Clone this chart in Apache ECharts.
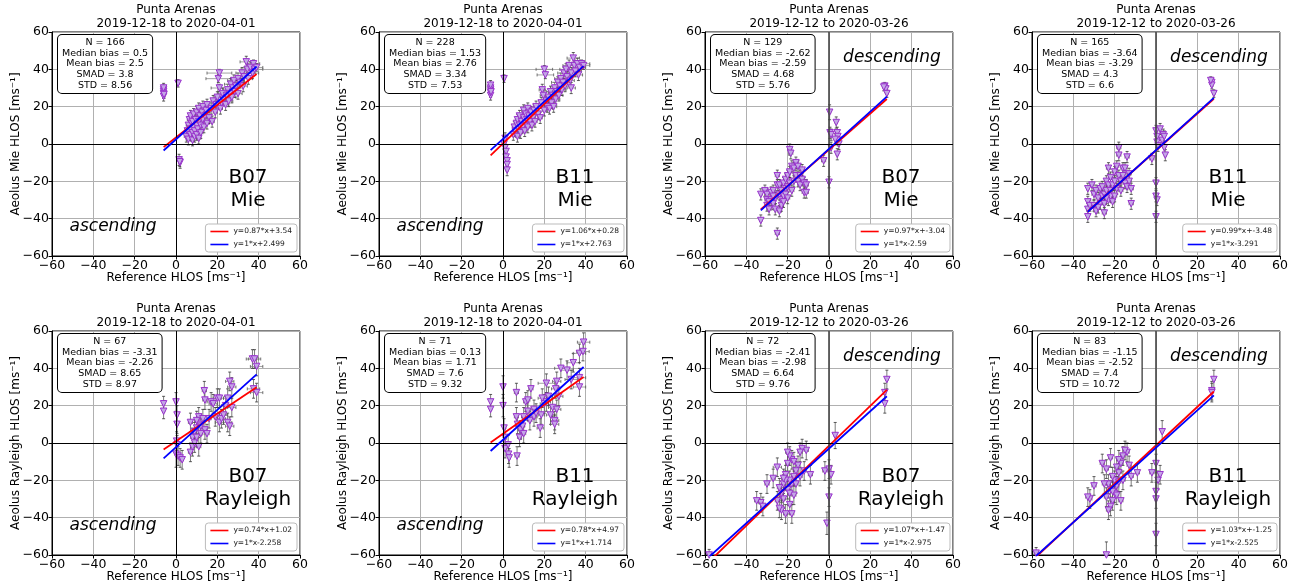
<!DOCTYPE html>
<html>
<head>
<meta charset="utf-8">
<script src="https://cdn.jsdelivr.net/npm/echarts@6/dist/echarts.min.js"></script>
<style>
  html, body { margin: 0; padding: 0; background: #fff; }
  #chart { width: 1298px; height: 586px; }
</style>
</head>
<body>
<div id="chart"></div>
<script>
// tick values shared by all panels
const ticks = [-60, -40, -20, 0, 20, 40, 60];

// points: [reference, aeolus, xerr, yerr]
const b07MieAsc = [[-6,25.5,0.5,2.5],[-6,27,0.5,2.5],[-6,28,0.5,2.5],[-6,29,0.5,2.5],[-6,30,0.5,2.5],[-5.8,26.5,0.5,2],
  [1,32.5,0.5,2],[1.5,-8.5,0.5,3],[2,-10,0.5,3],[1.8,-9.5,0.5,2.5],
  [5,4,1,3],[5.5,7,1,3],[6,2.5,1,3],[6,10,1,3],[6.5,13,1,3],[7,5,1,3],[7,8,1,3],[7,15,1,3],[7.5,11,1,3],[8,2,1,3],
  [8,6,1,3],[8,12,1,3],[8.5,9,1,3],[8.5,16,1,3],[9,4,1,3],[9,7,1,3],[9.5,13,1,3],[10,5,1,3],[10,10,1,3],[10,17,1,3],
  [10.5,8,1,3],[11,3,1,3],[11,12,1,3],[11,19,1,3],[11.5,15,1,3],[12,6,1,3],[12,10,1,3],[12.5,17,1,3],[13,13,1,3],[13,20,1,3],
  [13.5,9,1,3],[14,15,1,3],[14.5,18,1,3],[15,11,1,3],[15,21,1,3],[16,14,1,3],[17,19,1,3],[17.5,12,1,3],[18,23,1,3],[19,17,1,3],
  [19.5,21,1,3],[20,25,1.5,3],[20.5,35,6,2],[21,38,6,2],[21,30,4,2],[21.5,19,1,3],[22,22,1.5,3],[22.5,27,2,3],[23,24,1.5,3],[24,21,1.5,3],
  [24.5,26,2,3],[25,29,2,3],[25.5,23,2,3],[26,27,2,3],[26.5,32,3,3],[27,25,2,3],[27.5,30,2,3],[28,34,3,3],[28.5,28,2,3],[29,31,2,3],
  [30,35,3,3],[30,27,2,3],[31,33,2,3],[32,38,3,3],[32.5,31,2,3],[33,36,2,3],[34,44,3,3],[34.5,40,3,3],[35,35,2,3],[36,41,3,3],
  [37,38,3,3],[37.5,43,3,2],[38,40,4,2],[39,41,3,2]];
const b11MieAsc = [[-6,26,0.5,2.5],[-6,27.5,0.5,2.5],[-6,29,0.5,2.5],[-6,30,0.5,2.5],[-6,31.5,0.5,2.5],[-5.8,28,0.5,2],
  [0.5,35,0.5,2],[0.5,0,0.5,3],[1,-2,0.5,3],[1.5,-4,0.5,3],[1.5,-7,0.5,3],[2,-9,0.5,3],[2,-11,0.5,3],[2,-14,0.5,3],[1,3,0.5,3],
  [5,5,1,3],[5.5,9,1,3],[6,7,1,3],[6.5,11,1,3],[7,4,1,3],[7,13,1,3],[7.5,8,1,3],[8,10,1,3],[8,15,1,3],[8.5,6,1,3],
  [9,12,1,3],[9.5,9,1,3],[10,14,1,3],[10,18,1,3],[10.5,7,1,3],[11,11,1,3],[11,16,1,3],[11.5,13,1,3],[12,9,1,3],[12,19,1,3],
  [12.5,15,1,3],[13,12,1,3],[13.5,17,1,3],[14,10,1,3],[14.5,14,1,3],[15,18,1,3],[15.5,12,1,3],[16,20,1,3],[17,16,1,3],[18,14,1,3],
  [18.5,22,1,3],[19,29,1.5,3],[19.5,26,1.5,3],[20,18,1,3],[20,40,4,2],[20.5,37,4,2],[21,23,1.5,3],[21.5,20,1.5,3],[22,25,1.5,3],[22.5,19,1.5,3],
  [23,28,2,3],[23.5,22,1.5,3],[24,26,2,3],[24.5,20,1.5,3],[25,30,2,3],[25.5,24,2,3],[26,28,2,3],[26.5,33,3,3],[27,26,2,3],[27.5,31,2,3],
  [28,35,3,3],[28.5,29,2,3],[29,33,2,3],[29.5,38,3,3],[30,31,2,3],[30.5,40,3,3],[31,36,2,3],[32,42,3,3],[32.5,34,2,3],[33,38,2,3],
  [34,46,3,3],[34.5,42,3,3],[35,39,3,3],[36,43,3,3],[36.5,37,2,3],[37,41,3,3],[38,43,4,2],[39,42,3,2],[33,30,2,3]];
const b07MieDesc = [[27,31,0.5,2],[27.5,29.5,0.5,2],[26.5,30.5,0.5,2],[28,27,0.5,2],
  [0.3,17,0.5,4],[0.5,6,0.5,3],[1,5,0.5,3],[3.5,11.5,0.5,3],[4,6,0.5,3],[4.3,4,0.5,3],[4.5,2,0.5,3],[4.8,0,0.5,3],[4,-5.5,0.5,3],
  [1,-2,0.5,3],[-2.6,-9,1,3],[0,-20.5,0.5,3],[3,2.5,0.5,3],
  [-33,-27,0.5,3],[-33,-41,0.5,3],[-31,-25,1,3],[-30,-27,1,3],[-30,-30,1,3],[-30,-33,1,3],[-29,-35,1,3],[-28,-26,1,3],[-28,-30,1,3],
  [-27,-32,1,3],[-27,-25,1,3],[-26,-29,1,3],[-26,-35,1,3],[-25,-48,1,3],[-25,-22,1,3],[-25,-17,1,3],[-24,-36,1,3],[-24,-27,1,3],[-24,-22,1,3],
  [-23,-30,1,3],[-23,-25,1,3],[-23,-33,1,3],[-22,-21,1,3],[-22,-28,1,3],[-22,-31,1,3],[-21,-19,1,3],[-21,-24,1,3],[-21,-27,1,3],[-20,-23,1,3],
  [-20,-29,1,3],[-20,-17,1,3],[-19,-15,1,3],[-19,-21,1,3],[-19,-3,1,3],[-18.5,-5,1,3],[-18,-12,1,3],[-18,-25,1,3],[-17,-20,1,3],[-17,-13,1,3],
  [-16,-10,1,3],[-16,-17,1,3],[-15,-20,1,3],[-15,-12,1,3],[-14,-22,1,3],[-14,-17,1,3],[-13,-19,1,3],[-13,-14,1,3],[-12,-26,1,3],[-12,-21,1,3],
  [-11,-22,1,3],[-11,-26,1,3],[-27,-28,1,3],[-29,-31,1,3]];
const b11MieDesc = [[27,33,0.5,2],[27,31.5,0.5,2],[26.5,34,0.5,2],[28,27,0.5,2],
  [0,7,0.5,3],[0.5,4,0.5,3],[0.5,1,0.5,3],[2,8,0.5,3],[3,2,0.5,3],[3.5,5,0.5,3],[4,-2,0.5,3],[4.5,-6,0.5,3],[4,4,0.5,3],[-2,-8,1,3],
  [0,-21,0.5,3],[0,-28,0.5,3],[0.5,-30,0.5,3],[0,-39,0.5,3],[1,-1,0.5,3],
  [-33,-24,0.5,3],[-33,-31,0.5,3],[-33,-35,0.5,3],[-33,-39,0.5,3],[-32,-33,0.5,3],[-31,-22,1,3],[-30,-27,1,3],[-30,-33,1,3],[-29,-25,1,3],[-29,-36,1,3],
  [-28,-29,1,3],[-27,-32,1,3],[-27,-24,1,3],[-26,-23,1,3],[-26,-28,1,3],[-25,-37,1,3],[-25,-27,1,3],[-25,-32,1,3],[-24,-20,1,3],[-24,-25,1,3],
  [-23,-30,1,3],[-23,-13,1,3],[-23,-22,1,3],[-22,-25,1,3],[-22,-18,1,3],[-22,-28,1,3],[-21,-22,1,3],[-21,-31,1,3],[-20,-28,1,3],[-20,-15,1,3],
  [-20,-20,1,3],[-19,-12,1,3],[-19,-24,1,3],[-18,-2,1,3],[-18,-6,1,3],[-18,-17,1,3],[-17,-20,1,3],[-17,-25,1,3],[-16,-17,1,3],[-16,-13,1,3],
  [-15,-13,1,3],[-15,-21,1,3],[-14,-7,1,3],[-14,-23,1,3],[-13,-20,1,3],[-13,-16,1,3],[-12,-24,1,3],[-12,-32,1,3],[-24,-29,1,3],[-28,-34,1,3]];
const b07RayAsc = [[-6,21,0.5,4],[-6,17,0.5,4],
  [0,22,0.5,5],[0.5,15,0.5,5],[0.5,10,0.5,5],[0.3,1,0.5,5],[0,-6,0.5,7],[1,-7,0.5,5],[2,-8,0.5,5],[3,-9,0.5,5],[0.5,-1,0.5,5],
  [7,11,1,5],[7,-5,1,5],[8,3,1,5],[8,-2,1,5],[9,6,1,5],[9,0,1,5],[10,8,1,5],[10,3,1,5],[11,14,1,5],[11,10,1,5],
  [11,-2,1,5],[12,5,1,5],[13,13,1,5],[13.7,28,1,5],[14,23,1,5],[14,7,1,5],[15,5,1,5],[16,13,1,5],[17,22,2,5],[18,21,2,5],
  [19,14,1,5],[20,24,2,5],[21,24,2,5],[21,11,2,5],[22,13,2,5],[23,15,2,5],[24,20,2,5],[25,24,2,5],[25,11,2,5],[26,9,2,5],
  [26,33,2,5],[27,30,2,5],[27,19,2,5],[37,45,3,5],[38,45,3,5],[39,41,3,5],[37.5,29,3,5],[39,27,3,5],[12,9,1,5],[10,12,1,5]];
const b11RayAsc = [[-6,22,0.5,4],[-6,18,0.5,4],[0,30,0.5,6],[0,20,0.5,6],[0.5,8,0.5,5],[1,3,0.5,5],[1,-3,0.5,5],[2.5,-1,0.5,5],[2.7,-6,0.5,5],[3,-8,0.5,5],
  [6.8,-7,1,5],[6.5,14,1,5],[6.5,27,1,5],[7,10,1,5],[8,3,1,5],[8.5,7,1,5],[9.5,9,1,5],[10,14,1,5],[10,5,1,5],[11,22,1,5],
  [12,23,1,5],[13,12,1,5],[13.5,29,1,5],[15,18,1.5,5],[15,14,1.5,5],[16,16,1.5,5],[18,8,1.5,5],[18.5,15,1.5,5],[19,24,2,5],[20,21,2,5],
  [21,32,4,5],[21,22,2,5],[23,15,2,5],[24,19,2,5],[25,12,2,5],[25,10,2,5],[25.5,29,2,5],[26,33,2,5],[26,18,2,5],[27,25,2,5],
  [28,40,3,5],[31,39,3,5],[33,34,3,5],[34,43,3,5],[37,30,3,5],[37,35,3,5],[37,48,3,5],[38.7,49,3,5],[39,54,3,5],[22,25,2,5],[12,17,1,5]];
const b07RayDesc = [[27,27,0.5,5],[27,21,0.5,5],[28,34,0.5,5],[3,4,0.5,7],[-2,-15,1,5],[0,-14,0.5,5],[1,-17,0.5,5],[0,-29,0.5,5],[-1,-43,0.5,6],
  [-9,-17,1,5],[-11,-4,1,5],[-13,-3,1,5],[-14,-5,1,5],[-15,-12,1,5],[-16,-15,1,5],[-17,-18,1,5],[-17,-28,1,5],[-18,-9,1,5],[-18,-22,1,5],
  [-19,-7,1,5],[-19,-20,1,5],[-19,-33,1,5],[-20,-5,1,5],[-20,-11,1,5],[-20,-25,1,5],[-21,-17,1,5],[-21,-38,1,5],[-22,-22,1,5],[-22,-30,1,5],
  [-23,-27,1,5],[-23,-36,1,5],[-24,-24,1,5],[-25,-13,2,5],[-25,-31,1,5],[-27,-19,1,5],[-30,-22,1,5],[-33,-32,1,5],[-32,-34,1,5],[-35,-31,1,5],
  [-58,-60,1,3],[-18,-38,1,5],[-16,-22,1,5],[-24,-35,1,5],[-21,-20,1,5],[-19,-27,1,5],[-22,-19,1,5],[-17,-10,1,5],[-14,-18,1,5],[-12,-15,1,5]];
const b11RayDesc = [[27,28,0.5,5],[28,34,0.5,5],[27,27,0.5,5],[3,6,0.5,6],[0,-11,0.5,5],[-2,-16,1,5],[1,-20,0.5,5],[0,-26,0.5,5],[0,-30,0.5,5],
  [0,-49,0.5,6],[2,-17,0.5,5],[-9,-16,1,5],[-12,-18,1,5],[-14,-5,1,5],[-15,-4,1,5],[-16,-7,1,5],[-17,-11,1,5],[-18,-9,1,5],[-18,-16,1,5],
  [-19,-13,1,5],[-19,-23,1,5],[-20,-20,1,5],[-20,-27,1,5],[-21,-18,1,5],[-21,-31,1,5],[-22,-8,1,5],[-22,-25,1,5],[-22,-34,1,5],[-23,-22,1,5],
  [-23,-36,1,5],[-24,-29,1,5],[-24,-60,1,7],[-25,-22,1,5],[-26,-11,1,5],[-30,-23,1,5],[-32,-30,1,5],[-33,-29,1,5],[-58,-59,1,3],[-16,-20,1,5],
  [-17,-31,1,5],[-24,-14,1,5],[-19,-28,1,5],[-21,-26,1,5],[-13,-12,1,5],[-18,-21,1,5]];

// fit line end points [x, y] (red = regression, blue = slope 1 + bias)
const fitRed = [
  [[-6,-1.68],[39,37.47]], [[-6,-6.08],[39,41.62]], [[-33,-35.05],[28,24.12]], [[-33,-36.15],[28,24.24]],
  [[-6,-3.42],[39,29.88]], [[-6,0.29],[39,35.39]], [[-58,-63.53],[28,28.49]], [[-58,-61.0],[28,27.59]]
];
const fitBlue = [
  [[-6,-3.5],[39,41.5]], [[-6,-3.24],[39,41.76]], [[-33,-35.59],[28,25.41]], [[-33,-36.29],[28,24.71]],
  [[-6,-8.26],[39,36.74]], [[-6,-4.29],[39,40.71]], [[-58,-60.98],[28,25.03]], [[-58,-60.53],[28,25.48]]
];
const redNames = ['y=0.87*x+3.54','y=1.06*x+0.28','y=0.97*x+-3.04','y=0.99*x+-3.48','y=0.74*x+1.02','y=0.78*x+4.97','y=1.07*x+-1.47','y=1.03*x+-1.25'];
const blueNames = ['y=1*x+2.499','y=1*x+2.763','y=1*x-2.59','y=1*x-3.291','y=1*x-2.258','y=1*x+1.714','y=1*x-2.975','y=1*x-2.525'];

// statistics boxes
const statN = [166, 228, 129, 165, 67, 71, 72, 83];
const statMedian = ['0.5','1.53','-2.62','-3.64','-3.31','0.13','-2.41','-1.15'];
const statMean = ['2.5','2.76','-2.59','-3.29','-2.26','1.71','-2.98','-2.52'];
const statSmad = ['3.8','3.34','4.68','4.3','8.65','7.6','6.64','7.4'];
const statStd = ['8.56','7.53','5.76','6.6','8.97','9.32','9.76','10.72'];

const dateRanges = ['2019-12-18 to 2020-04-01','2019-12-18 to 2020-04-01','2019-12-12 to 2020-03-26','2019-12-12 to 2020-03-26'];
const baselines = ['B07','B11','B07','B11'];
const channels = ['Mie','Rayleigh'];
const passes = ['ascending','ascending','descending','descending'];

const points = [b07MieAsc, b11MieAsc, b07MieDesc, b11MieDesc, b07RayAsc, b11RayAsc, b07RayDesc, b11RayDesc];

// layout
const FONT = 'DejaVu Sans';
const gridLefts = [52, 379, 705, 1032];
const gridTops = [32, 331];
const W = 248, H = 224;

const ctx = document.createElement('canvas').getContext('2d');
ctx.font = '9.5px "DejaVu Sans"';

const minus = v => String(v).replace('-', '\u2212');

function renderErr(params, api) {
  const x = api.value(0), y = api.value(1), ex = api.value(2), ey = api.value(3);
  const t = api.coord([x, y + ey]), b = api.coord([x, y - ey]);
  const l = api.coord([x - ex, y]), r = api.coord([x + ex, y]);
  const c = 1.5;
  const ln = (x1, y1, x2, y2, col) => ({ type: 'line', shape: { x1, y1, x2, y2 }, style: { stroke: col, lineWidth: 0.8 } });
  return {
    type: 'group',
    children: [
      ln(l[0], l[1], r[0], r[1], '#8a8a8a'),
      ln(t[0], t[1], b[0], b[1], '#5a5a5a'),
      ln(t[0] - c, t[1], t[0] + c, t[1], '#333'),
      ln(b[0] - c, b[1], b[0] + c, b[1], '#333'),
      ln(l[0], l[1] - c, l[0], l[1] + c, '#555'),
      ln(r[0], r[1] - c, r[0], r[1] + c, '#555')
    ]
  };
}

const grid = [], xAxis = [], yAxis = [], series = [], legend = [], graphic = [];

for (let i = 0; i < 8; i++) {
  const row = Math.floor(i / 4), col = i % 4;
  const left = gridLefts[col], top = gridTops[row];
  const desc = col >= 2;
  grid.push({ left: left, top: top, width: W, height: H, show: true, borderColor: '#000', borderWidth: 1,
    backgroundColor: 'transparent', outerBoundsMode: 'none' });
  const axisCommon = {
    type: 'value', gridIndex: i, min: -60, max: 60, interval: 20,
    axisLine: { show: true, onZero: false, lineStyle: { color: '#000', width: 1 } },
    axisTick: { show: true, length: 3.5, lineStyle: { color: '#000' } },
    axisLabel: { color: '#000', fontSize: 12.5, fontFamily: FONT, formatter: minus, showMinLabel: true, showMaxLabel: true, margin: 3 },
    splitLine: { show: true, lineStyle: { color: '#b0b0b0', width: 1 } },
    nameLocation: 'middle', nameMoveOverlap: false,
    nameTextStyle: { color: '#000', fontSize: 12, fontFamily: FONT }
  };
  xAxis.push(Object.assign({}, axisCommon, { name: 'Reference HLOS [ms\u207B\u00B9]', nameGap: 16 }));
  yAxis.push(Object.assign({}, axisCommon, { name: 'Aeolus ' + channels[row] + ' HLOS [ms\u207B\u00B9]', nameGap: 30 }));

  series.push({
    type: 'custom', xAxisIndex: i, yAxisIndex: i, renderItem: renderErr, clip: true, z: 2,
    encode: { x: 0, y: 1 }, data: points[i], silent: true,
    markLine: {
      silent: true, symbol: 'none', label: { show: false }, animation: false,
      lineStyle: { color: '#000', width: 1, type: 'solid' },
      data: [
        { xAxis: 0, lineStyle: desc ? { color: '#444', width: 1.6, type: 'solid' } : { color: '#000', width: 1, type: 'solid' } },
        { yAxis: 0 }
      ]
    }
  });
  series.push({
    type: 'scatter', xAxisIndex: i, yAxisIndex: i, data: points[i], encode: { x: 0, y: 1 }, z: 3,
    symbol: 'triangle', symbolRotate: 180, symbolSize: 6.5,
    itemStyle: { color: '#c4a6e6', borderColor: '#9932cc', borderWidth: 1, opacity: 1 }
  });
  series.push({
    type: 'line', name: redNames[i], xAxisIndex: i, yAxisIndex: i, data: fitRed[i], z: 4,
    symbol: 'none', clip: true, lineStyle: { color: '#ff0000', width: 1.8 }, itemStyle: { color: '#ff0000' }
  });
  series.push({
    type: 'line', name: blueNames[i], xAxisIndex: i, yAxisIndex: i, data: fitBlue[i], z: 5,
    symbol: 'none', clip: true, lineStyle: { color: '#0000ff', width: 1.8 }, itemStyle: { color: '#0000ff' }
  });

  legend.push({
    data: [redNames[i], blueNames[i]], orient: 'vertical', icon: 'rect',
    right: 1298 - (left + W) + 3, bottom: 586 - (top + H) + 4,
    itemWidth: 18, itemHeight: 1.6, itemGap: 4, padding: [3, 5],
    borderColor: '#bbb', borderWidth: 1, borderRadius: 3, backgroundColor: '#fff',
    textStyle: { fontSize: 7.5, color: '#222', fontFamily: FONT, lineHeight: 9 }
  });

  // panel title
  graphic.push({
    type: 'text', z: 100, x: left + W / 2, y: top - 15,
    style: { text: 'Punta Arenas\n' + dateRanges[col], align: 'center', verticalAlign: 'middle',
      fontSize: 12, fontFamily: FONT, fill: '#000', lineHeight: 14 }
  });
  // statistics box
  const lines = ['N = ' + statN[i], 'Median bias = ' + statMedian[i], 'Mean bias = ' + statMean[i],
    'SMAD = ' + statSmad[i], 'STD = ' + statStd[i]];
  const tw = Math.max.apply(null, lines.map(s => ctx.measureText(s).width));
  graphic.push({
    type: 'text', z: 100, x: left + 5 + 5 + tw / 2, y: top + 3,
    style: {
      text: lines.join('\n'), align: 'center', verticalAlign: 'top',
      fontSize: 9.5, fontFamily: FONT, fill: '#000', lineHeight: 10.8,
      backgroundColor: '#fff', borderColor: '#000', borderWidth: 1, borderRadius: 4, padding: [2, 4]
    }
  });
  // baseline / channel label
  graphic.push({
    type: 'text', z: 100, x: left + 196, y: top + 157,
    style: { text: baselines[col] + '\n' + channels[row], align: 'center', verticalAlign: 'middle',
      fontSize: 20, fontFamily: FONT, fill: '#000', lineHeight: 23 }
  });
  // orbit pass label
  graphic.push({
    type: 'text', z: 100, x: desc ? left + 187 : left + 61, y: desc ? top + 26 : top + 195,
    style: { text: passes[col], align: 'center', verticalAlign: 'middle',
      fontSize: 17, fontStyle: 'italic', fontFamily: FONT, fill: '#000' }
  });
}

const chart = echarts.init(document.getElementById('chart'), null, { renderer: 'canvas' });
chart.setOption({
  animation: false,
  backgroundColor: '#fff',
  grid, xAxis, yAxis, series, legend, graphic
});
</script>
</body>
</html>
